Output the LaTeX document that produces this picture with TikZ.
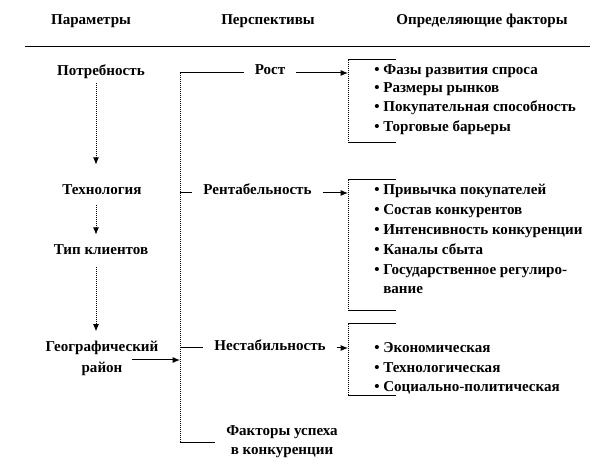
\documentclass[tikz,border=0pt]{standalone}
\usepackage{fontspec}
\setmainfont{Liberation Serif}
\usetikzlibrary{arrows.meta}
\begin{document}
\begin{tikzpicture}[x=0.75pt,y=-0.75pt,
  every node/.style={font=\fontsize{11.3}{14}\selectfont\bfseries, inner sep=0pt},
  param/.style={text height=8pt,text depth=3pt},
  persp/.style={inner xsep=8pt,text height=8pt,text depth=5pt},
  item/.style={anchor=west,text height=8pt,text depth=3pt},
  dotline/.style={line width=0.75pt, dash pattern=on 0.75pt off 0.75pt},
  hline/.style={line width=0.75pt},
  arr/.style={-{Latex[length=5.5pt,width=4.5pt]}}
]
\useasboundingbox (0,0) rectangle (600,470);

% headers
\node (h1) at (91,21) {Параметры};
\node (h2) at (268,21) {Перспективы};
\node (h3) at (482,21) {Определяющие факторы};
\coordinate (rl) at (25,47);
\coordinate (rr) at (590,47);
\draw[hline] (rl) -- (rr);

% left column
\node[param] (potr) at (101,72) {Потребность};
\node[param] (tech) at (102,191.5) {Технология};
\node[param] (klient) at (101,251.5) {Тип клиентов};
\node[align=center,font=\fontsize{11.3}{15.75}\selectfont\bfseries] (geo) at (102,358) {Географический\\район};
\coordinate (ax) at (96,0);
\draw[dotline,arr,shorten <=2.8pt,shorten >=14.4pt] (potr.south -| ax) -- (tech.north -| ax);
\draw[dotline,arr,shorten <=4.7pt,shorten >=6.9pt] (tech.south -| ax) -- (klient.north -| ax);
\draw[dotline,arr,shorten <=6.2pt,shorten >=6.7pt] (klient.south -| ax) -- (geo.north -| ax);

% perspectives
\coordinate (brk) at (180,0);
\node[persp] (rost) at (270,73) {Рост};
\node[persp] (rent) at (257.5,193) {Рентабельность};
\node[persp] (nest) at (270,348) {Нестабильность};
\node[inner xsep=8pt,align=center,font=\fontsize{11.3}{14.25}\selectfont\bfseries] (fact) at (282,442) {Факторы успеха\\в конкуренции};
\draw[dotline] (rost.west -| brk) -- (fact.west -| brk);
\draw[hline] (rost.west -| brk) -- (rost.west);
\draw[hline] (rent.west -| brk) -- (rent.west);
\draw[hline] (nest.west -| brk) -- (nest.west);
\draw[hline] (fact.west -| brk) -- (fact.west);
\coordinate (geoout) at (132,360);
\draw[hline,arr] (geoout) -- (geoout -| brk);

% right brackets
\coordinate (rb) at (348,0);
\coordinate (g1t) at (348,60);
\coordinate (g1b) at (348,143);
\coordinate (g2t) at (348,180);
\coordinate (g2b) at (348,311);
\coordinate (g3t) at (348,324);
\coordinate (g3b) at (348,395);
\draw[dotline] (g1t) -- (g1b);
\draw[dotline] (g2t) -- (g2b);
\draw[dotline] (g3t) -- (g3b);
\draw[hline] (g1t) -- ++(48,0);
\draw[hline] (g1b) -- ++(48,0);
\draw[hline] (g2t) -- ++(48,0);
\draw[hline] (g2b) -- ++(48,0);
\draw[hline] (g3t) -- ++(48,0);
\draw[hline] (g3b) -- ++(48,0);
\draw[hline,arr] (rost.east) -- (rost.east -| rb);
\draw[hline,arr] (rent.east) -- (rent.east -| rb);
\draw[hline,arr] (nest.east) -- (nest.east -| rb);

% items
\node[item] (a1) at (374,71.5) {\textbullet\ Фазы развития спроса};
\node[item] (a2) at (374,89.5) {\textbullet\ Размеры рынков};
\node[item] (a3) at (374,108.5) {\textbullet\ Покупательная способность};
\node[item] (a4) at (374,128.5) {\textbullet\ Торговые барьеры};
\node[item] (b1) at (374,191.5) {\textbullet\ Привычка покупателей};
\node[item] (b2) at (374,211.5) {\textbullet\ Состав конкурентов};
\node[item] (b3) at (374,231.5) {\textbullet\ Интенсивность конкуренции};
\node[item] (b4) at (374,251.5) {\textbullet\ Каналы сбыта};
\node[anchor=west,align=left,font=\fontsize{11.3}{14.25}\selectfont\bfseries] (b5) at (374,279.5) {\textbullet\ Государственное регулиро-\\\phantom{\textbullet\ }вание};
\node[item] (c1) at (374,349.5) {\textbullet\ Экономическая};
\node[item] (c2) at (374,369.5) {\textbullet\ Технологическая};
\node[item] (c3) at (374,388.5) {\textbullet\ Социально-политическая};
\end{tikzpicture}
\end{document}
